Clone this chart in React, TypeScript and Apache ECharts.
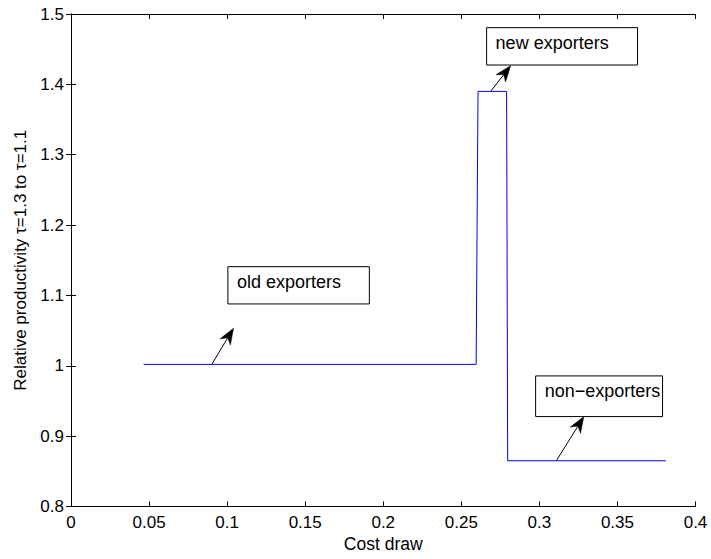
import React, { useEffect, useRef } from "react";
import * as echarts from "echarts";

// Step series: cost draw (x) vs relative productivity (y)
const costDraw = [0.0465, 0.2595, 0.2607, 0.279, 0.2797, 0.381];
const relProductivity = [1.002, 1.002, 1.39, 1.39, 0.865, 0.865];

const xTicks = [0, 0.05, 0.1, 0.15, 0.2, 0.25, 0.3, 0.35, 0.4];
const yTicks = [0.8, 0.9, 1, 1.1, 1.2, 1.3, 1.4, 1.5];

// Annotations (text box corners and arrow tail/head in data coordinates)
const annLabels = ["old exporters", "new exporters", "non\u2212exporters"];
const annBoxX = [[0.1005, 0.1911], [0.2662, 0.3629], [0.2976, 0.3789]];
const annBoxY = [[1.1409, 1.0879], [1.4806, 1.4275], [0.9856, 0.9278]];
const annTail = [[0.0902, 1.0022], [0.269, 1.3906], [0.311, 0.8655]];
const annHead = [[0.1041, 1.0534], [0.2816, 1.4265], [0.3285, 0.9278]];

const FONT = "'Liberation Sans', Arial, Helvetica, sans-serif";

export default function App() {
  const ref = useRef<HTMLDivElement>(null);
  useEffect(() => {
    if (!ref.current) return;
    const chart = echarts.init(ref.current, undefined, { renderer: "svg" });
    const data = costDraw.map((x, i) => [x, relProductivity[i]]);
    const axisCommon = {
      axisLine: { show: true, lineStyle: { color: "#000", width: 1 } },
      axisTick: { show: true, inside: true, length: 5, lineStyle: { color: "#000" } },
      splitLine: { show: false },
    };
    chart.setOption({
      animation: false,
      backgroundColor: "#fff",
      grid: { left: 71, right: 15.5, top: 14, bottom: 52.5, containLabel: false },
      xAxis: [
        {
          type: "value",
          min: xTicks[0],
          max: xTicks[xTicks.length - 1],
          interval: 0.05,
          name: "Cost draw",
          nameLocation: "middle",
          nameGap: 27,
          nameTextStyle: { fontFamily: FONT, fontSize: 17.5, color: "#000" },
          axisLabel: {
            fontFamily: FONT,
            fontSize: 17,
            color: "#000",
            margin: 7,
            formatter: (v: number) => String(+v.toFixed(2)),
          },
          ...axisCommon,
        },
        {
          type: "value",
          position: "top",
          min: xTicks[0],
          max: xTicks[xTicks.length - 1],
          interval: 0.05,
          axisLabel: { show: false },
          ...axisCommon,
        },
      ],
      yAxis: [
        {
          type: "value",
          min: yTicks[0],
          max: yTicks[yTicks.length - 1],
          interval: 0.1,
          name: "Relative productivity \u03c4=1.3 to \u03c4=1.1",
          nameLocation: "middle",
          nameGap: 40,
          nameTextStyle: { fontFamily: FONT, fontSize: 17, color: "#000" },
          axisLabel: {
            fontFamily: FONT,
            fontSize: 17,
            color: "#000",
            margin: 7,
            formatter: (v: number) => String(+v.toFixed(1)),
          },
          ...axisCommon,
        },
        {
          type: "value",
          position: "right",
          min: yTicks[0],
          max: yTicks[yTicks.length - 1],
          interval: 0.1,
          axisLabel: { show: false },
          ...axisCommon,
        },
      ],
      series: [
        {
          type: "line",
          data,
          showSymbol: false,
          symbol: "none",
          lineStyle: { color: "#0000ff", width: 1 },
          silent: true,
        },
      ],
    });

    const px = (p: number[]) => chart.convertToPixel({ gridIndex: 0 }, p) as number[];
    const elements: any[] = [];
    annLabels.forEach((label, i) => {
      const p1 = px([annBoxX[i][0], annBoxY[i][0]]);
      const p2 = px([annBoxX[i][1], annBoxY[i][1]]);
      const bx = Math.min(p1[0], p2[0]);
      const by = Math.min(p1[1], p2[1]);
      const bw = Math.abs(p2[0] - p1[0]);
      const bh = Math.abs(p2[1] - p1[1]);
      elements.push({
        type: "rect",
        shape: { x: bx, y: by, width: bw, height: bh },
        style: { fill: "#fff", stroke: "#000", lineWidth: 1 },
        z: 10,
      });
      elements.push({
        type: "text",
        x: bx + 9,
        y: by + 6,
        style: {
          text: label,
          fontFamily: FONT,
          fontSize: 18,
          fill: "#000",
          textVerticalAlign: "top",
        },
        z: 11,
      });
      const t = px(annTail[i]);
      const h = px(annHead[i]);
      const dx = h[0] - t[0];
      const dy = h[1] - t[1];
      const len = Math.sqrt(dx * dx + dy * dy);
      const ux = dx / len;
      const uy = dy / len;
      const nx = -uy;
      const ny = ux;
      const hl = 16;
      const hw = 6;
      const back = [h[0] - ux * hl, h[1] - uy * hl];
      const notch = [h[0] - ux * hl * 0.7, h[1] - uy * hl * 0.7];
      elements.push({
        type: "line",
        shape: { x1: t[0], y1: t[1], x2: notch[0], y2: notch[1] },
        style: { stroke: "#000", lineWidth: 1 },
        z: 10,
      });
      elements.push({
        type: "polygon",
        shape: {
          points: [
            [h[0], h[1]],
            [back[0] + nx * hw, back[1] + ny * hw],
            [notch[0], notch[1]],
            [back[0] - nx * hw, back[1] - ny * hw],
          ],
        },
        style: { fill: "#000", stroke: "#000", lineWidth: 0.5 },
        z: 10,
      });
    });
    chart.setOption({ graphic: elements });

    return () => chart.dispose();
  }, []);
  return (
    <div
      ref={ref}
      style={{ position: "fixed", left: 0, top: 0, width: 711, height: 559 }}
    />
  );
}
